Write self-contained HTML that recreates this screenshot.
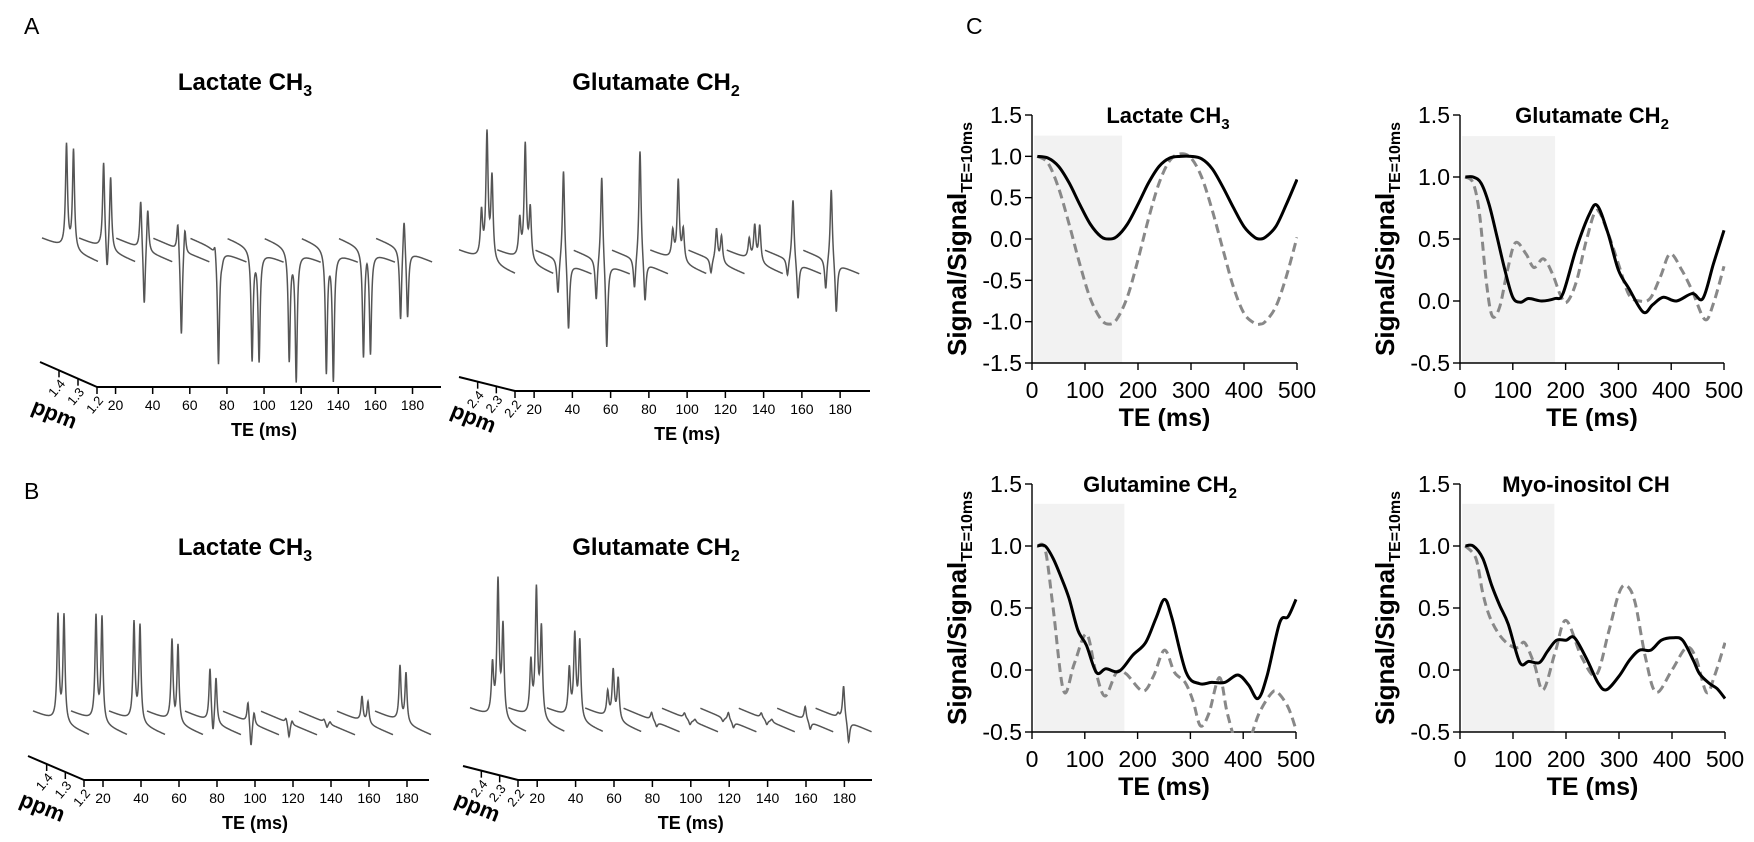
<!DOCTYPE html>
<html><head><meta charset="utf-8"><style>
html,body{margin:0;padding:0;background:#fff}
svg{display:block;font-family:"Liberation Sans",Arial,sans-serif}
</style></head><body>
<svg id="fig" width="1754" height="842" viewBox="0 0 1754 842" xmlns="http://www.w3.org/2000/svg">
<defs>
<clipPath id="cp1"><rect x="1032" y="100" width="266" height="264"/></clipPath>
<clipPath id="cp2"><rect x="1460" y="100" width="266" height="264"/></clipPath>
<clipPath id="cp3"><rect x="1032" y="470" width="266" height="263"/></clipPath>
<clipPath id="cp4"><rect x="1460" y="470" width="266" height="263"/></clipPath>
</defs>
<text x="24" y="34" font-size="23">A</text>
<text x="24" y="499" font-size="23">B</text>
<text x="966" y="34" font-size="23">C</text>
<g id="spectra"></g>
<g id="curves"></g>
</svg>
<script>
// ---------- Spectra data (panels A and B) ----------
const specTE = [10,30,50,70,90,110,130,150,170,190];
const specTicks = [20,40,60,80,100,120,140,160,180];
// lactate A: three line amplitudes (left, centre, right)
const lacA_L = [103,87,52,32,12,-110,-110,-122,-107,-73];
const lacA_C = [0,-32,-63,-90,-115,0,0,0,8,42];
const lacA_R = [100,75,46,29,-5,-108,-128,-127,-101,-68];
// glutamate A
const gluA_L = [45,38,-37,-43,-33,27,-15,20,-18,-32];
const gluA_C = [125,115,97,92,115,80,33,35,65,77];
const gluA_R = [83,52,-70,-88,-43,32,27,37,-38,-52];
// lactate B
const lacB_L = [105,104,98,81,54,22,5,3,25,55];
const lacB_C = [0,0,0,-5,-20,-27,-15,-5,0,0];
const lacB_R = [107,105,97,78,47,14,5,3,22,50];
// glutamate B
const gluB_L = [50,53,47,25,0,5,-4,5,0,4];
const gluB_C = [135,127,82,48,8,-5,8,-5,14,35];
const gluB_R = [92,90,78,42,-5,3,-6,3,-8,-22];

// ---------- Panel C data ----------
const lacTE_s = [10,30,50,70,90,110,130,145,160,180,200,220,240,260,280,300,320,340,360,380,400,420,430,440,460,480,500];
const lacSolid = [1.0,0.98,0.88,0.68,0.42,0.18,0.03,0.0,0.03,0.18,0.42,0.68,0.88,0.98,1.0,1.0,0.97,0.85,0.63,0.38,0.15,0.02,0.0,0.02,0.15,0.42,0.72];
const lacTE_d = lacTE_s;
const lacDash = [1.0,0.92,0.62,0.18,-0.3,-0.72,-0.97,-1.03,-0.97,-0.7,-0.25,0.25,0.68,0.95,1.03,0.98,0.75,0.35,-0.12,-0.58,-0.9,-1.02,-1.03,-1.0,-0.82,-0.45,0.02];

const gluTE_s = [10,25,40,55,70,85,100,115,130,155,180,195,220,245,260,280,300,320,347,365,385,410,440,460,480,500];
const gluSolid = [1.0,1.0,0.95,0.78,0.52,0.25,0.03,-0.01,0.02,0.0,0.02,0.06,0.42,0.7,0.77,0.55,0.25,0.1,-0.09,-0.03,0.03,0.0,0.06,0.02,0.3,0.57];
const gluTE_d = [10,25,37,50,61,75,90,105,125,140,158,175,190,202,220,240,259,280,300,320,340,360,380,398,420,440,464,480,500];
const gluDash = [1.0,0.95,0.7,0.15,-0.12,-0.05,0.25,0.47,0.38,0.27,0.34,0.22,0.05,-0.01,0.15,0.5,0.73,0.55,0.3,0.05,0.0,0.02,0.2,0.38,0.25,0.08,-0.15,-0.02,0.28];

const glnTE_s = [10,25,40,55,70,87,103,122,140,165,191,215,235,251,265,292,317,340,365,390,410,428,445,469,485,500];
const glnSolid = [1.0,1.0,0.9,0.75,0.58,0.32,0.2,-0.02,0.01,-0.01,0.12,0.22,0.42,0.57,0.42,-0.02,-0.11,-0.1,-0.1,-0.04,-0.12,-0.23,-0.05,0.38,0.43,0.57];
const glnTE_d = [10,25,40,60,80,103,120,138,160,178,210,230,251,270,290,305,319,335,355,370,390,410,430,453,465,485,500];
const glnDash = [1.0,0.97,0.5,-0.17,0.05,0.29,0.0,-0.21,-0.02,-0.03,-0.17,-0.05,0.16,-0.02,-0.1,-0.25,-0.45,-0.35,-0.06,-0.35,-0.62,-0.58,-0.35,-0.19,-0.18,-0.3,-0.48];

const myoTE_s = [10,25,43,60,75,91,113,130,150,165,182,200,216,240,260,276,300,320,339,360,380,402,420,440,452,471,485,500];
const myoSolid = [1.0,1.0,0.9,0.68,0.52,0.37,0.06,0.07,0.06,0.15,0.24,0.24,0.26,0.08,-0.1,-0.16,-0.05,0.08,0.16,0.16,0.24,0.26,0.24,0.08,-0.03,-0.11,-0.15,-0.23];
const myoTE_d = [10,30,43,56,75,94,110,122,140,157,180,200,230,257,280,300,314,330,350,370,400,427,445,465,480,500];
const myoDash = [1.0,0.9,0.62,0.43,0.28,0.2,0.18,0.22,0.05,-0.16,0.15,0.4,0.1,-0.04,0.3,0.62,0.68,0.55,0.1,-0.18,0.0,0.18,0.1,-0.18,-0.05,0.22];

const cTicksX = [0,100,200,300,400,500];
const c1TicksY = [1.5,1.0,0.5,0.0,-0.5,-1.0,-1.5];
const c2TicksY = [1.5,1.0,0.5,0.0,-0.5];

const NS = 'http://www.w3.org/2000/svg';
function mk(tag, attrs, parent, txt){
  const e = document.createElementNS(NS, tag);
  for (const k in attrs) e.setAttribute(k, attrs[k]);
  if (txt !== undefined) e.textContent = txt;
  parent.appendChild(e);
  return e;
}
const gS = document.getElementById('spectra');
const gC = document.getElementById('curves');

// ---------- Spectra panels ----------
function spectrumPanel(p){
  const g = mk('g', {}, gS);
  
  
  const xTE = t => p.ox + p.k * (t - 10);
  const t = mk('text', {x: p.titleX, y: p.titleY, 'font-size': 24, 'font-weight': 'bold', 'text-anchor': 'middle'}, g);
  
  
  t.appendChild(document.createTextNode(p.title));
  mk('tspan', {'font-size': 16, dy: 6}, t, p.sub);
  for (let i = 0; i < specTE.length; i++){
    const c = xTE(specTE[i]) - p.dx;
    let d = '';
    for (let x = -28; x <= 28; x += 0.25){
      let y = p.yc + p.slope * x;
      y -= p.L[i] / (1 + Math.pow((x - p.off[0]) / p.w, 2));
      y -= p.C[i] / (1 + Math.pow((x - p.off[1]) / p.w, 2));
      y -= p.R[i] / (1 + Math.pow((x - p.off[2]) / p.w, 2));
      d += (d ? 'L' : 'M') + (c + x).toFixed(2) + ' ' + y.toFixed(2);
    }
    const tr = mk('path', {d: d, fill: 'none', stroke: '#555', 'stroke-width': 1.5}, g);
    
    
  }
  const ax = mk('line', {x1: p.ox, y1: p.ay, x2: p.axEnd, y2: p.ay, stroke: '#000', 'stroke-width': 2}, g);
  
  
  for (const tv of specTicks){
    const x = xTE(tv);
    mk('line', {x1: x, y1: p.ay, x2: x, y2: p.ay + 7, stroke: '#000', 'stroke-width': 1.5}, g);
    const tl = mk('text', {x: x, y: p.ay + 23, 'font-size': 14, 'text-anchor': 'middle'}, g, String(tv));
    
    
  }
  mk('line', {x1: p.ox, y1: p.ay, x2: p.ox, y2: p.ay + 7, stroke: '#000', 'stroke-width': 1.5}, g);
  const pa = mk('line', {x1: p.px, y1: p.py, x2: p.ox, y2: p.ay, stroke: '#000', 'stroke-width': 2}, g);
  
  
  for (let j = 0; j < 3; j++){
    const f = j / 3;
    const x = p.ox + (p.px - p.ox) * f, y = p.ay + (p.py - p.ay) * f;
    if (j > 0) mk('line', {x1: x, y1: y, x2: x, y2: y + 7, stroke: '#000', 'stroke-width': 1.5}, g);
    const pl = mk('text', {x: x - 2, y: y + 22, 'font-size': 13, 'text-anchor': 'middle', transform: 'rotate(-50 ' + (x - 2) + ' ' + (y + 18) + ')'}, g, p.ppm[j]);
    
    
  }
  const pt = mk('text', {x: p.px + 14, y: p.ay + 34, 'font-size': 22, 'font-weight': 'bold', 'text-anchor': 'middle', transform: 'rotate(22 ' + (p.px + 14) + ' ' + (p.ay + 28) + ')'}, g, 'ppm');
  
  
  const tt = mk('text', {x: xTE(100), y: p.ay + 49, 'font-size': 18, 'font-weight': 'bold', 'text-anchor': 'middle'}, g, 'TE (ms)');
  
  
}
spectrumPanel({name:'spectra-a-lactate', title:'Lactate CH', sub:'3', titleX:245, titleY:90,
  ox:97, k:1.856, dx:27, ay:387, axEnd:441, px:40, py:362, yc:250, slope:0.42, w:1.2,
  off:[-3.5,0,3.5], L:lacA_L, C:lacA_C, R:lacA_R, ppm:['1.2','1.3','1.4']});
spectrumPanel({name:'spectra-a-glutamate', title:'Glutamate CH', sub:'2', titleX:656, titleY:90,
  ox:515, k:1.9125, dx:28, ay:391, axEnd:870, px:459, py:377, yc:262, slope:0.42, w:1.3,
  off:[-5.5,0,5], L:gluA_L, C:gluA_C, R:gluA_R, ppm:['2.2','2.3','2.4']});
spectrumPanel({name:'spectra-b-lactate', title:'Lactate CH', sub:'3', titleX:245, titleY:555,
  ox:84, k:1.9, dx:23, ay:780, axEnd:429, px:28, py:756, yc:723, slope:0.42, w:1.2,
  off:[-3,0,3], L:lacB_L, C:lacB_C, R:lacB_R, ppm:['1.2','1.3','1.4']});
spectrumPanel({name:'spectra-b-glutamate', title:'Glutamate CH', sub:'2', titleX:656, titleY:555,
  ox:518, k:1.92, dx:20, ay:780, axEnd:872, px:463, py:766, yc:720, slope:0.42, w:1.3,
  off:[-5.5,0,5], L:gluB_L, C:gluB_C, R:gluB_R, ppm:['2.2','2.3','2.4']});

// ---------- Panel C ----------
function smoothPath(pts){
  let d = 'M' + pts[0][0].toFixed(2) + ' ' + pts[0][1].toFixed(2);
  for (let i = 0; i < pts.length - 1; i++){
    const p0 = pts[Math.max(0, i - 1)], p1 = pts[i], p2 = pts[i + 1], p3 = pts[Math.min(pts.length - 1, i + 2)];
    const c1x = p1[0] + (p2[0] - p0[0]) / 6, c1y = p1[1] + (p2[1] - p0[1]) / 6;
    const c2x = p2[0] - (p3[0] - p1[0]) / 6, c2y = p2[1] - (p3[1] - p1[1]) / 6;
    d += 'C' + c1x.toFixed(2) + ' ' + c1y.toFixed(2) + ' ' + c2x.toFixed(2) + ' ' + c2y.toFixed(2) + ' ' + p2[0].toFixed(2) + ' ' + p2[1].toFixed(2);
  }
  return d;
}
function curvePanel(p){
  const g = mk('g', {}, gC);
  
  
  const xs = v => p.x0 + (p.x1 - p.x0) * v / 500;
  const ys = v => p.yTop + (p.yBot - p.yTop) * (p.vmax - v) / (p.vmax - p.vmin);
  const sh = mk('rect', {x: xs(4), y: ys(p.shadeTop), width: xs(p.shadeEnd) - xs(4), height: ys(p.vmin) - ys(p.shadeTop), fill: '#f2f2f2'}, g);
  
  
  const ya = mk('line', {x1: p.x0, y1: p.yTop, x2: p.x0, y2: p.yBot, stroke: '#000', 'stroke-width': 1.4}, g);
  
  
  const xa = mk('line', {x1: p.x0, y1: p.yBot, x2: p.x1, y2: p.yBot, stroke: '#000', 'stroke-width': 1.4}, g);
  
  
  for (const v of p.yt){
    const y = ys(v);
    mk('line', {x1: p.x0 - 7, y1: y, x2: p.x0, y2: y, stroke: '#000', 'stroke-width': 1.4}, g);
    const l = mk('text', {x: p.x0 - 10, y: y + 8, 'font-size': 23, 'text-anchor': 'end'}, g, v.toFixed(1));
    
    
  }
  for (const v of cTicksX){
    const x = xs(v);
    mk('line', {x1: x, y1: p.yBot, x2: x, y2: p.yBot + 7, stroke: '#000', 'stroke-width': 1.4}, g);
    const l = mk('text', {x: x, y: p.yBot + 35, 'font-size': 23, 'text-anchor': 'middle'}, g, String(v));
    
    
  }
  const xt = mk('text', {x: xs(250), y: p.yBot + 63, 'font-size': 25, 'font-weight': 'bold', 'text-anchor': 'middle'}, g, 'TE (ms)');
  
  
  const cy = (p.yTop + p.yBot) / 2, tx = p.x0 - 66;
  const yt = mk('text', {x: tx, y: cy, 'font-size': 26, 'font-weight': 'bold', 'text-anchor': 'middle', transform: 'rotate(-90 ' + tx + ' ' + cy + ')'}, g);
  
  
  yt.appendChild(document.createTextNode('Signal/Signal'));
  mk('tspan', {'font-size': 16, dy: 6}, yt, 'TE=10ms');
  const tt = mk('text', {x: p.tx, y: p.ty, 'font-size': 22, 'font-weight': 'bold', 'text-anchor': 'middle'}, g);
  
  
  tt.appendChild(document.createTextNode(p.title));
  if (p.sub) mk('tspan', {'font-size': 15, dy: 6}, tt, p.sub);
  const cg = mk('g', {'clip-path': 'url(#' + p.clip + ')'}, g);
  const dp = mk('path', {d: smoothPath(p.td.map((t, i) => [xs(t), ys(p.vd[i])])), fill: 'none', stroke: '#888', 'stroke-width': 3, 'stroke-dasharray': '9 5'}, cg);
  
  
  const sp = mk('path', {d: smoothPath(p.ts.map((t, i) => [xs(t), ys(p.vs[i])])), fill: 'none', stroke: '#000', 'stroke-width': 3}, cg);
  
  
}
curvePanel({name:'plot-lactate', title:'Lactate CH', sub:'3', tx:1168, ty:123, x0:1032, x1:1297, yTop:115, yBot:363, vmax:1.5, vmin:-1.5, yt:c1TicksY,
  shadeEnd:170, shadeTop:1.25, clip:'cp1', ts:lacTE_s, vs:lacSolid, td:lacTE_d, vd:lacDash});
curvePanel({name:'plot-glutamate', title:'Glutamate CH', sub:'2', tx:1592, ty:123, x0:1460, x1:1724, yTop:115, yBot:363, vmax:1.5, vmin:-0.5, yt:c2TicksY,
  shadeEnd:180, shadeTop:1.33, clip:'cp2', ts:gluTE_s, vs:gluSolid, td:gluTE_d, vd:gluDash});
curvePanel({name:'plot-glutamine', title:'Glutamine CH', sub:'2', tx:1160, ty:492, x0:1032, x1:1296, yTop:484, yBot:732, vmax:1.5, vmin:-0.5, yt:c2TicksY,
  shadeEnd:175, shadeTop:1.34, clip:'cp3', ts:glnTE_s, vs:glnSolid, td:glnTE_d, vd:glnDash});
curvePanel({name:'plot-myo-inositol', title:'Myo-inositol CH', sub:'', tx:1586, ty:492, x0:1460, x1:1725, yTop:484, yBot:732, vmax:1.5, vmin:-0.5, yt:c2TicksY,
  shadeEnd:178, shadeTop:1.34, clip:'cp4', ts:myoTE_s, vs:myoSolid, td:myoTE_d, vd:myoDash});
</script>
</body></html>
